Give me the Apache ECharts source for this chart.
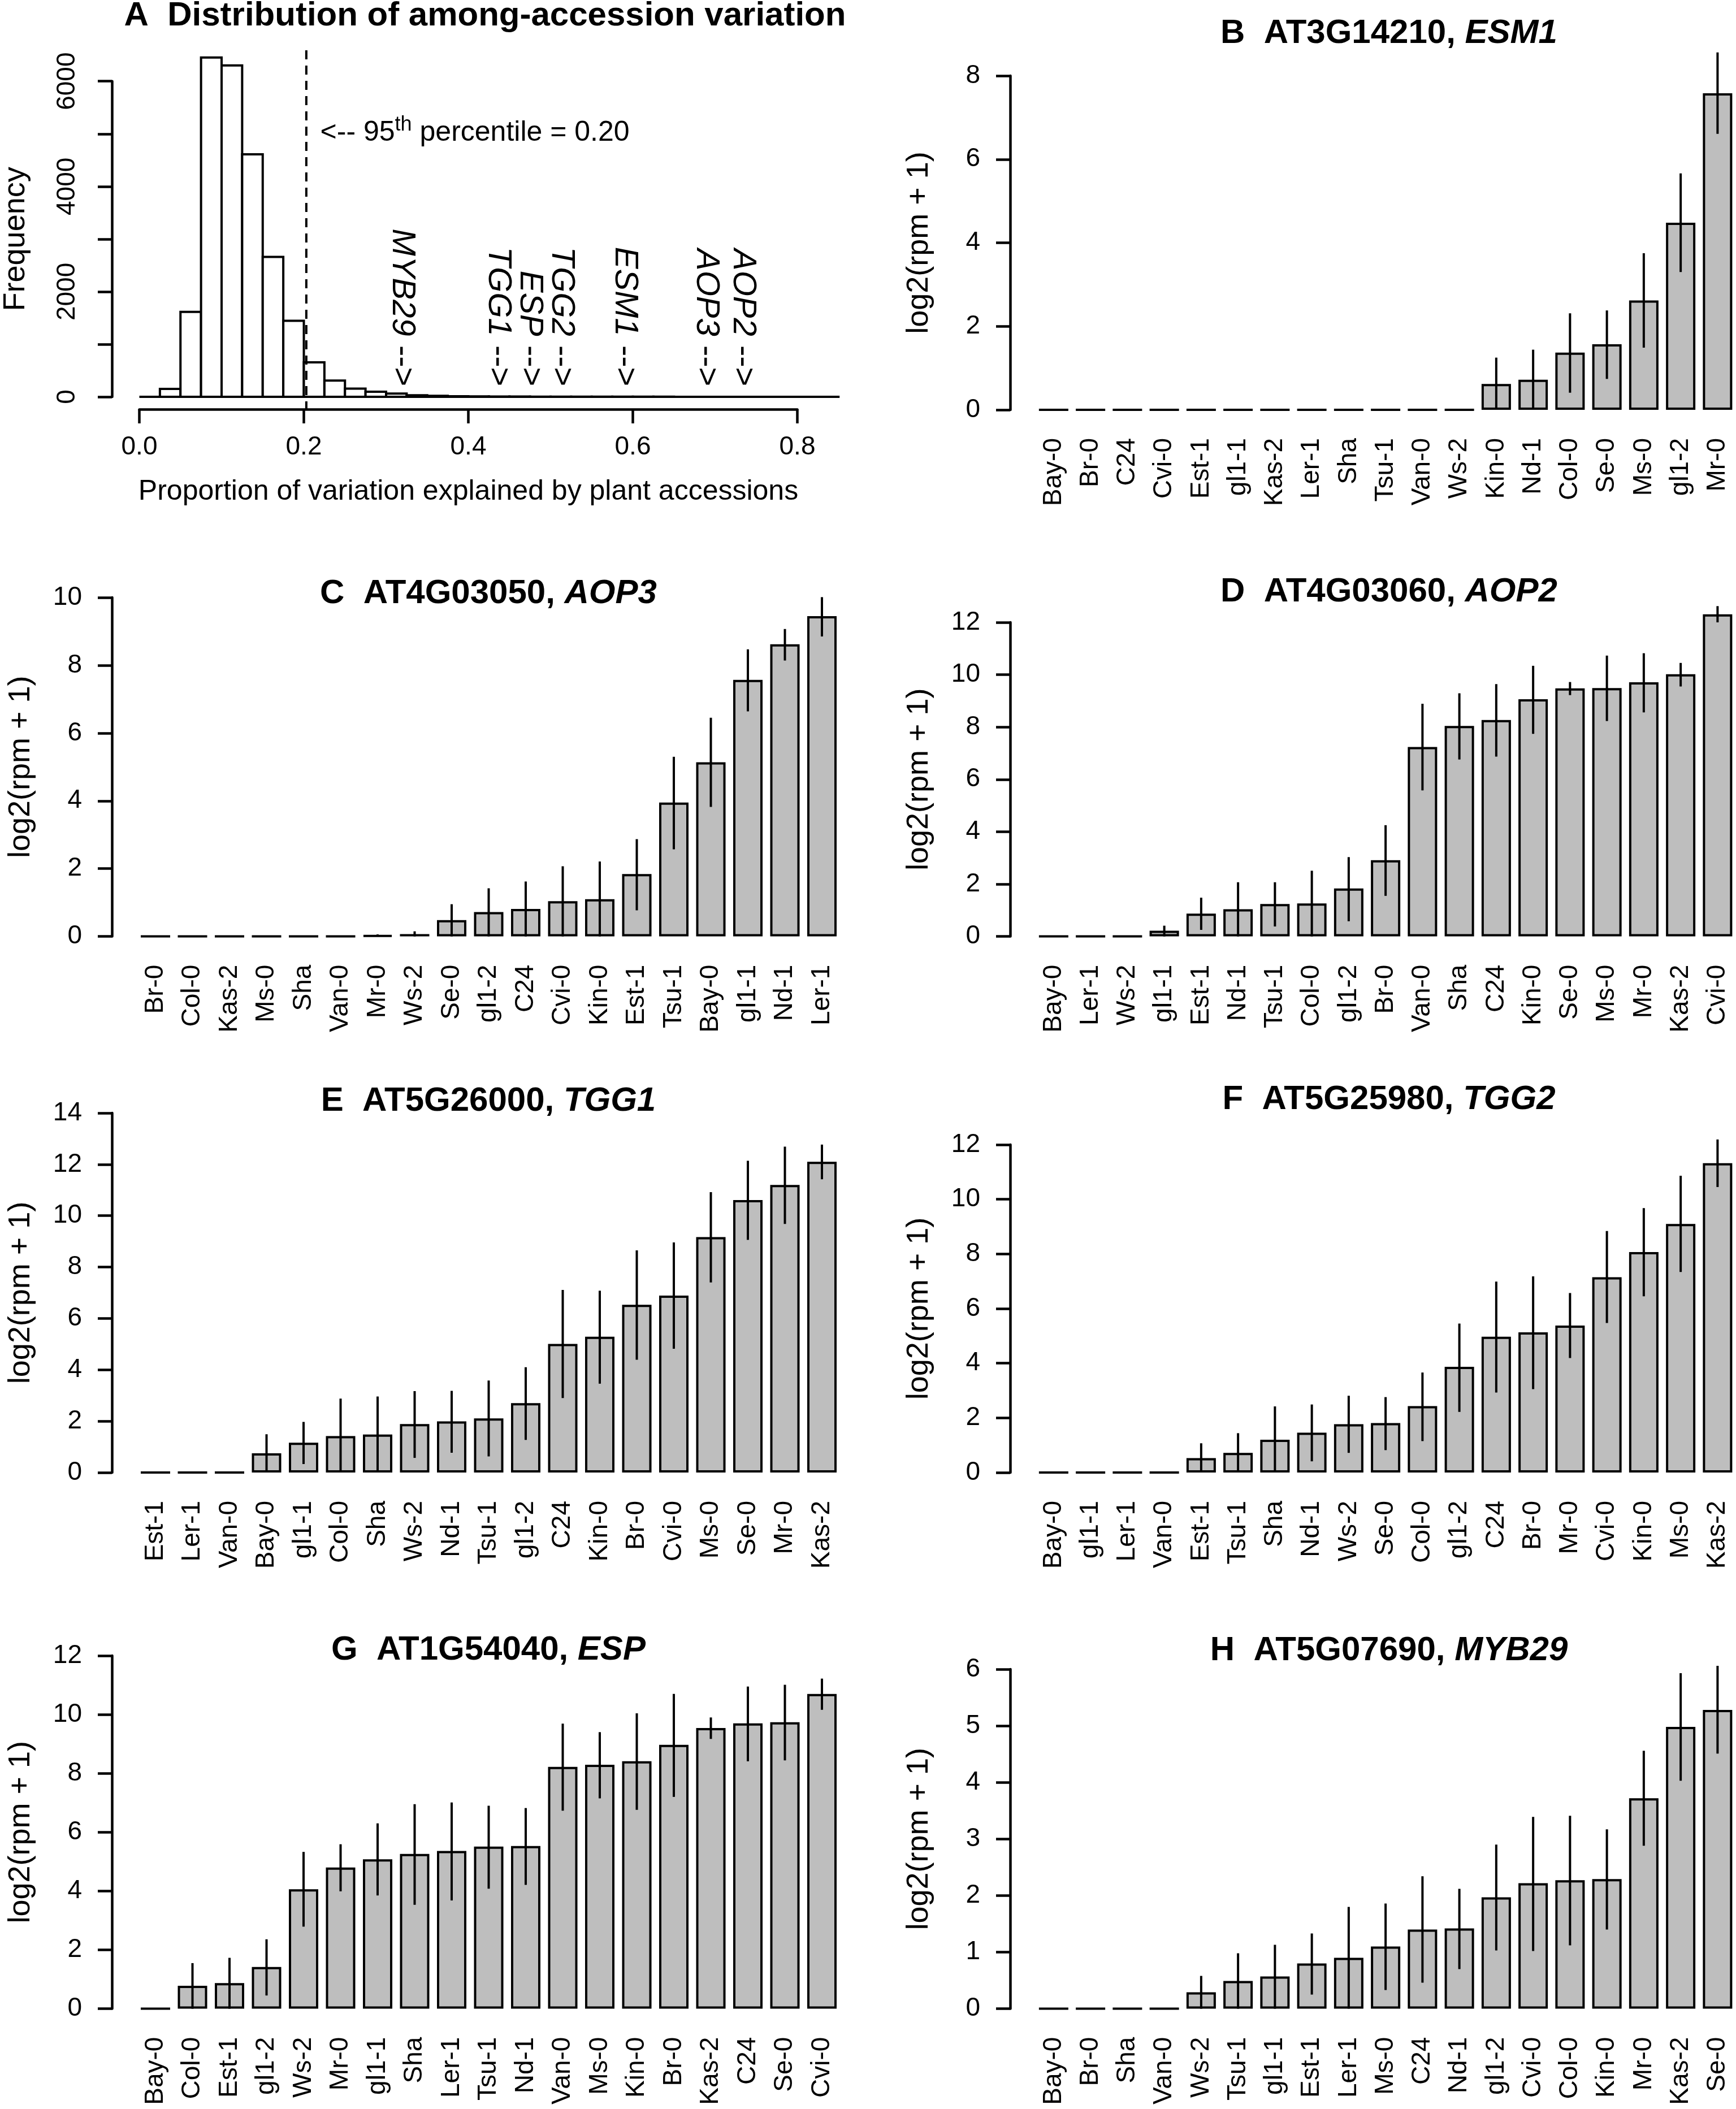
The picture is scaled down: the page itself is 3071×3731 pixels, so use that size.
<!DOCTYPE html>
<html>
<head>
<meta charset="utf-8">
<title>Among-accession variation</title>
<script src="https://cdn.jsdelivr.net/npm/echarts@6/dist/echarts.min.js"></script>
<style>
html, body { margin: 0; padding: 0; background: #fff; }
#chart { width: 3071px; height: 3731px; }
</style>
</head>
<body>
<div id="chart"></div>
<script>
// ---- panel A: histogram of the proportion of variation (bins of 0.025)
const binWidth = 0.025;
const histCounts = [0, 150, 1615, 6450, 6300, 4610, 2660, 1445, 655, 310, 155, 96, 63, 30, 20, 12,
  8, 6, 5, 4, 4, 3, 3, 2, 2, 2, 1, 1, 1, 1, 1, 1, 1, 1];
const pct95 = 0.203;
const freqLabelled = [0, 2000, 4000, 6000];
const geneNames = ['MYB29', 'TGG1', 'ESP', 'TGG2', 'ESM1', 'AOP3', 'AOP2'];
const geneProps = [0.319, 0.436, 0.475, 0.513, 0.590, 0.689, 0.734];

// ---- B  ESM1
const esm1Acc = ['Bay-0','Br-0','C24','Cvi-0','Est-1','gl1-1','Kas-2','Ler-1','Sha','Tsu-1','Van-0','Ws-2','Kin-0','Nd-1','Col-0','Se-0','Ms-0','gl1-2','Mr-0'];
const esm1Mean = [0,0,0,0,0,0,0,0,0,0,0,0,0.62,0.72,1.37,1.57,2.62,4.48,7.58];
const esm1Low  = [0,0,0,0,0,0,0,0,0,0,0,0,0,0,0.41,0.74,1.49,3.30,6.61];
const esm1High = [0,0,0,0,0,0,0,0,0,0,0,0,1.25,1.44,2.31,2.38,3.75,5.66,8.56];

// ---- C  AOP3
const aop3Acc = ['Br-0','Col-0','Kas-2','Ms-0','Sha','Van-0','Mr-0','Ws-2','Se-0','gl1-2','C24','Cvi-0','Kin-0','Est-1','Tsu-1','Bay-0','gl1-1','Nd-1','Ler-1'];
const aop3Mean = [0,0,0,0,0,0,0.03,0.07,0.48,0.72,0.81,1.04,1.10,1.84,3.95,5.14,7.57,8.62,9.45];
const aop3Low  = [0,0,0,0,0,0,0,0,0,0,0,0,0,0.77,2.57,3.82,6.64,8.14,8.85];
const aop3High = [0,0,0,0,0,0,0.06,0.15,0.95,1.42,1.62,2.07,2.21,2.87,5.30,6.45,8.47,9.07,10.01];

// ---- D  AOP2
const aop2Acc = ['Bay-0','Ler-1','Ws-2','gl1-1','Est-1','Nd-1','Tsu-1','Col-0','gl1-2','Br-0','Van-0','Sha','C24','Kin-0','Se-0','Ms-0','Mr-0','Kas-2','Cvi-0'];
const aop2Mean = [0,0,0,0.22,0.87,1.04,1.24,1.26,1.83,2.91,7.24,8.04,8.27,9.06,9.48,9.49,9.71,10.02,12.31];
const aop2Low  = [0,0,0,0,0.25,0,0.38,0,0.58,1.55,5.58,6.76,6.87,7.74,9.22,8.23,8.56,9.55,12.00];
const aop2High = [0,0,0,0.41,1.48,2.07,2.07,2.51,3.03,4.25,8.89,9.29,9.64,10.34,9.72,10.73,10.82,10.45,12.62];

// ---- E  TGG1
const tgg1Acc = ['Est-1','Ler-1','Van-0','Bay-0','gl1-1','Col-0','Sha','Ws-2','Nd-1','Tsu-1','gl1-2','C24','Kin-0','Br-0','Cvi-0','Ms-0','Se-0','Mr-0','Kas-2'];
const tgg1Mean = [0,0,0,0.75,1.16,1.42,1.48,1.89,1.99,2.11,2.70,5.01,5.29,6.53,6.89,9.17,10.61,11.20,12.10];
const tgg1Low  = [0,0,0,0,0.33,0,0,0.57,0.77,0.63,1.27,2.90,3.46,4.39,4.82,7.40,9.06,9.68,11.42];
const tgg1High = [0,0,0,1.49,1.97,2.88,2.96,3.17,3.18,3.58,4.10,7.11,7.08,8.65,8.96,10.92,12.14,12.69,12.77];

// ---- F  TGG2
const tgg2Acc = ['Bay-0','gl1-1','Ler-1','Van-0','Est-1','Tsu-1','Sha','Nd-1','Ws-2','Se-0','Col-0','gl1-2','C24','Br-0','Mr-0','Cvi-0','Kin-0','Ms-0','Kas-2'];
const tgg2Mean = [0,0,0,0,0.53,0.72,1.20,1.46,1.77,1.81,2.43,3.87,4.97,5.13,5.38,7.15,8.07,9.10,11.32];
const tgg2Low  = [0,0,0,0,0,0,0,0.41,0.72,0.82,1.15,2.22,2.93,3.05,4.19,5.47,6.45,7.34,10.45];
const tgg2High = [0,0,0,0,1.07,1.44,2.42,2.49,2.81,2.76,3.66,5.45,6.99,7.18,6.57,8.84,9.68,10.86,12.19];

// ---- G  ESP
const espAcc = ['Bay-0','Col-0','Est-1','gl1-2','Ws-2','Mr-0','gl1-1','Sha','Ler-1','Tsu-1','Nd-1','Van-0','Ms-0','Kin-0','Br-0','Kas-2','C24','Se-0','Cvi-0'];
const espMean = [0,0.78,0.87,1.42,4.06,4.80,5.08,5.26,5.36,5.51,5.53,8.22,8.29,8.41,8.97,9.54,9.70,9.74,10.70];
const espLow  = [0,0,0,0.45,2.79,3.99,3.85,3.53,3.68,4.08,4.21,6.73,7.15,6.76,7.20,9.17,8.41,8.44,10.16];
const espHigh = [0,1.55,1.73,2.36,5.33,5.59,6.30,6.95,7.01,6.90,6.82,9.69,9.40,10.04,10.70,9.90,10.95,11.01,11.22];

// ---- H  MYB29
const myb29Acc = ['Bay-0','Br-0','Sha','Van-0','Ws-2','Tsu-1','gl1-1','Est-1','Ler-1','Ms-0','C24','Nd-1','gl1-2','Cvi-0','Col-0','Kin-0','Mr-0','Kas-2','Se-0'];
const myb29Mean = [0,0,0,0,0.29,0.49,0.57,0.80,0.90,1.10,1.40,1.42,1.97,2.22,2.27,2.29,3.72,4.98,5.28];
const myb29Low  = [0,0,0,0,0,0,0,0.25,0,0.33,0.46,0.70,1.03,1.02,1.12,1.40,2.88,4.03,4.51];
const myb29High = [0,0,0,0,0.58,0.98,1.13,1.33,1.80,1.86,2.34,2.12,2.90,3.39,3.41,3.17,4.56,5.93,6.06];

const FONT = "'Liberation Sans', Arial, Helvetica, sans-serif";
const LW = 4.5;
const black = '#000';

// layout of the bar panels (pixels)
const colAxisX = [198, 1787];
const step = 65.5;        // distance between bar centres
const firstGap = 77;      // y axis line -> first bar centre
const panels = [
  { tag: 'B', locus: 'AT3G14210', gene: 'ESM1', acc: esm1Acc, mean: esm1Mean, low: esm1Low, high: esm1High, yMax: 8, yStep: 2, col: 1, zero: 725, top: 134, titleY: 59 },
  { tag: 'C', locus: 'AT4G03050', gene: 'AOP3', acc: aop3Acc, mean: aop3Mean, low: aop3Low, high: aop3High, yMax: 10, yStep: 2, col: 0, zero: 1656.6, top: 1057, titleY: 1050 },
  { tag: 'D', locus: 'AT4G03060', gene: 'AOP2', acc: aop2Acc, mean: aop2Mean, low: aop2Low, high: aop2High, yMax: 12, yStep: 2, col: 1, zero: 1656.6, top: 1101, titleY: 1047 },
  { tag: 'E', locus: 'AT5G26000', gene: 'TGG1', acc: tgg1Acc, mean: tgg1Mean, low: tgg1Low, high: tgg1High, yMax: 14, yStep: 2, col: 0, zero: 2605, top: 1969, titleY: 1948 },
  { tag: 'F', locus: 'AT5G25980', gene: 'TGG2', acc: tgg2Acc, mean: tgg2Mean, low: tgg2Low, high: tgg2High, yMax: 12, yStep: 2, col: 1, zero: 2605, top: 2025, titleY: 1945 },
  { tag: 'G', locus: 'AT1G54040', gene: 'ESP', acc: espAcc, mean: espMean, low: espLow, high: espHigh, yMax: 12, yStep: 2, col: 0, zero: 3553.6, top: 2929, titleY: 2919 },
  { tag: 'H', locus: 'AT5G07690', gene: 'MYB29', acc: myb29Acc, mean: myb29Mean, low: myb29Low, high: myb29High, yMax: 6, yStep: 1, col: 1, zero: 3553.6, top: 2953, titleY: 2920 }
];
const titleX = [864, 2457];

const axisLineStyle = { show: true, onZero: false, lineStyle: { color: black, width: LW } };
const axisTickStyle = { show: true, length: 25, lineStyle: { color: black, width: LW } };
const titleRich = {
  b: { fontFamily: FONT, fontSize: 60, fontWeight: 'bold', fill: black },
  bi: { fontFamily: FONT, fontSize: 60, fontWeight: 'bold', fontStyle: 'italic', fill: black }
};

const grids = [], xAxes = [], yAxes = [], series = [], graphics = [];

// ================= panel A =================
grids.push({ left: 246.5, top: 143.7, width: 1455 * 0.85, height: 558.3 });
grids.push({ left: 246.5, top: 143.7, width: 1455 * 0.8, height: 558.3 });
xAxes.push({ gridIndex: 0, type: 'value', min: 0, max: 0.85, show: false });
yAxes.push({
  gridIndex: 0, type: 'value', min: 0, max: 6000, interval: 1000, offset: 48.5,
  axisLine: axisLineStyle, axisTick: axisTickStyle, splitLine: { show: false },
  axisLabel: { rotate: 90, margin: 56, fontSize: 46, fontFamily: FONT, color: black,
    formatter: v => freqLabelled.indexOf(v) >= 0 ? String(v) : '' },
  name: 'Frequency', nameLocation: 'middle', nameRotate: 90, nameGap: 143,
  nameTextStyle: { fontSize: 54, fontFamily: FONT, color: black }
});
xAxes.push({
  gridIndex: 1, type: 'value', min: 0, max: 0.8, interval: 0.2, offset: 22,
  axisLine: axisLineStyle, axisTick: axisTickStyle, splitLine: { show: false },
  axisLabel: { margin: 44, fontSize: 46, fontFamily: FONT, color: black, formatter: v => v.toFixed(1) },
  name: 'Proportion of variation explained by plant accessions', nameLocation: 'middle', nameGap: 121,
  nameTextStyle: { fontSize: 50, fontFamily: FONT, color: black }
});
yAxes.push({ gridIndex: 1, type: 'value', min: 0, max: 6000, show: false });

series.push({
  type: 'custom', xAxisIndex: 0, yAxisIndex: 0, clip: false, silent: true,
  encode: { x: [0, 1], y: 2 },
  data: histCounts.map((c, i) => [i * binWidth, (i + 1) * binWidth, c]),
  renderItem: (params, api) => {
    const p0 = api.coord([api.value(0), api.value(2)]);
    const p1 = api.coord([api.value(1), 0]);
    return { type: 'rect', shape: { x: p0[0], y: p0[1], width: p1[0] - p0[0], height: p1[1] - p0[1] },
      style: { fill: '#fff', stroke: black, lineWidth: 4 } };
  }
});
// dashed line at the 95th percentile, over the whole plot region
series.push({
  type: 'line', xAxisIndex: 0, yAxisIndex: 0, clip: false, silent: true, symbol: 'none',
  data: [[pct95, -258], [pct95, 6700]],
  lineStyle: { color: black, width: 4, type: [16, 11] }, z: 5
});
// percentile note
series.push({
  type: 'custom', xAxisIndex: 0, yAxisIndex: 0, clip: false, silent: true,
  data: [[0.22, 5020]],
  renderItem: (params, api) => {
    const p = api.coord([api.value(0), api.value(1)]);
    return { type: 'text', x: p[0], y: p[1], style: {
      text: '{n|<-- 95}{s|th}{n| percentile = ' + pct95.toFixed(2) + '}', align: 'left', verticalAlign: 'middle',
      rich: {
        n: { fontFamily: FONT, fontSize: 50, lineHeight: 64, fill: black },
        s: { fontFamily: FONT, fontSize: 36, lineHeight: 36, verticalAlign: 'top', fill: black }
      } } };
  }
});
// gene labels with arrows
series.push({
  type: 'custom', xAxisIndex: 0, yAxisIndex: 0, clip: false, silent: true,
  data: geneProps.map((p, i) => [p, 200, i]),
  renderItem: (params, api) => {
    const p = api.coord([api.value(0), api.value(1)]);
    return { type: 'text', x: p[0], y: p[1], rotation: -Math.PI / 2, style: {
      text: '{i|' + geneNames[api.value(2)] + '}{n| -->}', align: 'right', verticalAlign: 'middle',
      rich: {
        i: { fontFamily: FONT, fontSize: 58, fontStyle: 'italic', fill: black },
        n: { fontFamily: FONT, fontSize: 58, fill: black }
      } } };
  }
});
graphics.push({ type: 'text', x: 858, y: 28, style: {
  text: '{b|A  Distribution of among-accession variation}', rich: titleRich,
  align: 'center', verticalAlign: 'middle' } });

// ================= bar panels B-H =================
panels.forEach(p => {
  const g = grids.length;
  const axisX = colAxisX[p.col];
  const left = axisX + firstGap - step / 2;
  grids.push({ left: left, top: p.top, width: step * p.acc.length, height: p.zero - p.top });
  xAxes.push({
    gridIndex: g, type: 'category', data: p.acc,
    axisLine: { show: false }, axisTick: { show: false }, splitLine: { show: false },
    axisLabel: { interval: 0, rotate: 90, margin: 50, fontSize: 46, fontFamily: FONT, color: black }
  });
  yAxes.push({
    gridIndex: g, type: 'value', min: 0, max: p.yMax, interval: p.yStep, offset: left - axisX,
    axisLine: axisLineStyle, axisTick: axisTickStyle, splitLine: { show: false },
    axisLabel: { margin: 53, fontSize: 46, fontFamily: FONT, color: black },
    name: 'log2(rpm + 1)', nameLocation: 'middle', nameRotate: 90, nameGap: 134,
    nameTextStyle: { fontSize: 54, fontFamily: FONT, color: black }
  });
  series.push({
    type: 'bar', xAxisIndex: g, yAxisIndex: g, data: p.mean, barWidth: 52, clip: false, silent: true,
    itemStyle: { color: '#bebebe', borderColor: black, borderWidth: 4 }
  });
  series.push({
    type: 'custom', xAxisIndex: g, yAxisIndex: g, clip: false, silent: true, z: 4,
    data: p.acc.map((a, i) => [i, p.low[i], p.high[i]]),
    renderItem: (params, api) => {
      const lo = api.coord([api.value(0), api.value(1)]);
      const hi = api.coord([api.value(0), api.value(2)]);
      return { type: 'line', shape: { x1: lo[0], y1: lo[1], x2: hi[0], y2: hi[1] },
        style: { stroke: black, lineWidth: 4 } };
    }
  });
  graphics.push({ type: 'text', x: titleX[p.col], y: p.titleY, style: {
    text: '{b|' + p.tag + '  ' + p.locus + ', }{bi|' + p.gene + '}', rich: titleRich,
    align: 'center', verticalAlign: 'middle' } });
});

const chart = echarts.init(document.getElementById('chart'));
chart.setOption({
  backgroundColor: '#fff',
  animation: false,
  textStyle: { fontFamily: FONT },
  grid: grids,
  xAxis: xAxes,
  yAxis: yAxes,
  series: series,
  graphic: graphics
});
</script>
</body>
</html>
